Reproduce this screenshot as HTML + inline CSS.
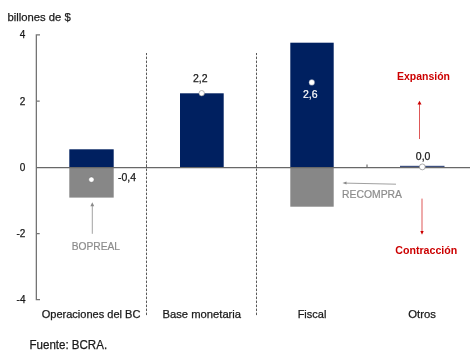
<!DOCTYPE html>
<html><head><meta charset="utf-8">
<style>
html,body{margin:0;padding:0;background:#fff;}
body{width:474px;height:360px;overflow:hidden;}
svg{display:block;will-change:transform;}
text{font-family:"Liberation Sans",sans-serif;}
.d{stroke:#1a1a1a;stroke-width:0.25;}
.g{stroke:#8c8c8c;stroke-width:0.2;}
.w{stroke:#fff;stroke-width:0.2;}
</style></head>
<body>
<svg width="474" height="360" viewBox="0 0 474 360">
  <!-- title -->
  <text x="7.5" y="21.3" font-size="11.7" fill="#1a1a1a" class="d" textLength="63.3" lengthAdjust="spacingAndGlyphs">billones de $</text>

  <!-- y axis labels -->
  <text x="25.3" y="38.3" font-size="10" fill="#1a1a1a" class="d" text-anchor="end">4</text>
  <text x="25.3" y="104.5" font-size="10" fill="#1a1a1a" class="d" text-anchor="end">2</text>
  <text x="25.3" y="171" font-size="10" fill="#1a1a1a" class="d" text-anchor="end">0</text>
  <text x="25.3" y="237" font-size="10" fill="#1a1a1a" class="d" text-anchor="end">-2</text>
  <text x="25.5" y="302.8" font-size="10" fill="#1a1a1a" class="d" text-anchor="end">-4</text>

  <!-- bars -->
  <rect x="69.3" y="149.3" width="44.4" height="17.7" fill="#002060"/>
  <rect x="69.3" y="167" width="44.4" height="30.6" fill="#878787"/>
  <rect x="180" y="93.3" width="43.7" height="73.7" fill="#002060"/>
  <rect x="290.3" y="42.7" width="43.4" height="124.3" fill="#002060"/>
  <rect x="290.3" y="167" width="43.4" height="39.7" fill="#878787"/>
  <rect x="400" y="165.8" width="44.5" height="2" fill="#3f5180"/>

  <!-- axes -->
  <path d="M40 34.95 H36.35 V299.7 H40 M36.5 101.1 H39.7 M36.5 233.7 H39.7" fill="none" stroke="#747474" stroke-width="1.3"/>
  <path d="M36.5 167.65 H470" fill="none" stroke="#686868" stroke-width="1.3"/>
  <path d="M146.5 167 V164.5 M367 167 V164.5" fill="none" stroke="#555" stroke-width="1"/>

  <!-- separators -->
  <path d="M146.5 53 V316 M256.5 53 V316" fill="none" stroke="#5a5a5a" stroke-width="1" stroke-dasharray="2.5 1.5" stroke-dashoffset="0.4"/>

  <!-- dots -->
  <circle cx="91.4" cy="179.6" r="2.7" fill="#fff" stroke="#6a6a6a" stroke-width="0.5"/>
  <circle cx="201.7" cy="93.2" r="2.7" fill="#fff" stroke="#888" stroke-width="0.6"/>
  <circle cx="311.8" cy="82.4" r="2.85" fill="#fff" stroke="#4a5a80" stroke-width="0.4"/>
  <circle cx="422.3" cy="166.9" r="2.95" fill="#fff" stroke="#8a8a8a" stroke-width="0.7"/>

  <!-- value labels -->
  <text x="118" y="181.3" font-size="10.5" fill="#1a1a1a" class="d">-0,4</text>
  <text x="193" y="81.5" font-size="10.5" fill="#1a1a1a" class="d">2,2</text>
  <text x="303" y="97.5" font-size="10.5" fill="#fff" class="w">2,6</text>
  <text x="415.8" y="159.7" font-size="10.5" fill="#1a1a1a" class="d">0,0</text>

  <!-- category labels -->
  <text x="41.7" y="317.5" font-size="11" fill="#1a1a1a" class="d" textLength="98.7" lengthAdjust="spacingAndGlyphs">Operaciones del BC</text>
  <text x="162.5" y="317.5" font-size="11" fill="#1a1a1a" class="d" textLength="78.6" lengthAdjust="spacingAndGlyphs">Base monetaria</text>
  <text x="312" y="317.5" font-size="11" fill="#1a1a1a" class="d" text-anchor="middle">Fiscal</text>
  <text x="408.3" y="317.5" font-size="11" fill="#1a1a1a" class="d" textLength="27.7" lengthAdjust="spacingAndGlyphs">Otros</text>

  <!-- annotations -->
  <path d="M92.3 233.8 V205" fill="none" stroke="#8c8c8c" stroke-width="0.8"/>
  <path d="M90.4 206.2 L92.3 202.3 L94.2 206.2 Z" fill="#888"/>
  <text x="71.7" y="250" font-size="10.5" fill="#8c8c8c" class="g" textLength="48.3" lengthAdjust="spacingAndGlyphs">BOPREAL</text>

  <path d="M396 184.2 L345 183.1" fill="none" stroke="#888" stroke-width="0.8"/>
  <path d="M346.5 181.6 L342.5 183.1 L346.5 184.6 Z" fill="#888"/>
  <text x="342" y="198.3" font-size="10.5" fill="#8c8c8c" class="g" textLength="60" lengthAdjust="spacingAndGlyphs">RECOMPRA</text>

  <path d="M419.5 139 V103" fill="none" stroke="#d83a3a" stroke-width="0.85"/>
  <path d="M417.5 104.5 L419.5 100.8 L421.5 104.5 Z" fill="#cc0000"/>
  <text x="397" y="80" font-size="11" font-weight="bold" fill="#cc0000" textLength="53" lengthAdjust="spacingAndGlyphs">Expansión</text>

  <path d="M422 198.6 V232" fill="none" stroke="#d83a3a" stroke-width="0.85"/>
  <path d="M420.3 231 L422 234.8 L423.7 231 Z" fill="#cc0000"/>
  <text x="395.3" y="254" font-size="11" font-weight="bold" fill="#cc0000" textLength="62" lengthAdjust="spacingAndGlyphs">Contracción</text>

  <!-- source -->
  <text x="29.5" y="348.7" font-size="12" fill="#1a1a1a" class="d" textLength="77.6" lengthAdjust="spacingAndGlyphs">Fuente: BCRA.</text>
</svg>
</body></html>
